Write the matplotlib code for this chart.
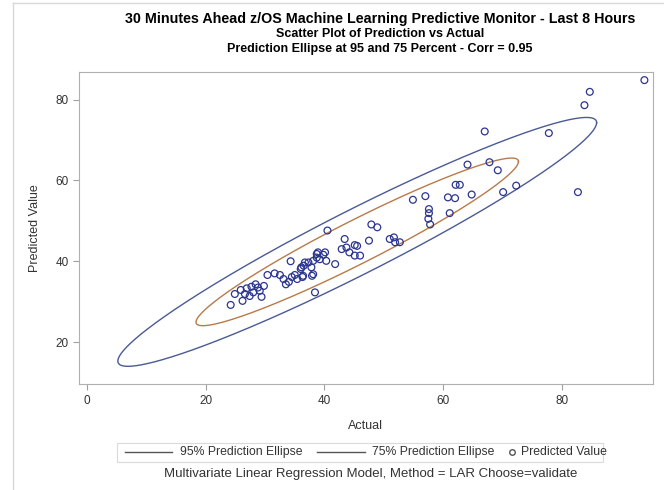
import numpy as np
import matplotlib
matplotlib.use("Agg")
import matplotlib.pyplot as plt
from matplotlib.lines import Line2D
from matplotlib.patches import Rectangle

# ---------------- data ----------------
actual = [
    24.2, 24.9, 25.9, 26.6, 26.2, 26.9, 27.7, 27.4, 28.0, 28.4, 28.8, 29.1, 29.4, 29.8, 30.4,
    31.6, 32.5, 33.1, 33.5, 34.0, 34.5, 35.0, 35.4, 36.3, 34.3, 36.0, 36.5, 37.3, 37.9, 38.1,
    38.7, 39.2, 39.8, 40.3, 41.8, 38.4, 38.9, 40.1, 38.7, 36.7, 36.1, 37.8, 38.1, 36.4,
    40.5, 47.9, 48.9, 43.4, 47.5, 51.0, 51.7, 51.9, 52.7, 42.9, 43.7, 44.2, 45.1, 45.5, 45.1, 46.0,
    54.9, 57.0, 60.8, 62.0, 62.1, 62.8, 64.1, 67.8, 69.2, 64.8, 70.1, 72.3, 57.6, 57.5, 57.8, 57.6, 61.1,
    67.0, 77.8, 82.7, 83.8, 84.7, 93.9,
]
predicted = [
    29.2, 31.9, 32.9, 31.9, 30.2, 33.3, 33.7, 31.4, 32.3, 34.3, 33.5, 32.7, 31.2, 33.9, 36.6,
    37.0, 36.6, 35.6, 34.3, 34.9, 36.1, 36.6, 35.6, 36.1, 40.0, 38.1, 38.9, 39.7, 36.4, 40.1,
    41.8, 40.5, 41.6, 40.1, 39.3, 32.3, 42.2, 42.2, 40.9, 39.7, 38.5, 38.5, 36.8, 36.4,
    47.6, 49.1, 48.4, 45.5, 45.1, 45.5, 45.9, 44.7, 44.7, 43.0, 43.4, 42.2, 44.0, 43.8, 41.4, 41.4,
    55.2, 56.1, 55.8, 55.6, 58.9, 58.9, 63.9, 64.5, 62.5, 56.5, 57.1, 58.7, 51.9, 50.5, 49.1, 52.9, 51.9,
    72.1, 71.7, 57.1, 78.6, 81.9, 84.8,
]
levels = [0.95, 0.75]
level_labels = ["95% Prediction Ellipse", "75% Prediction Ellipse"]
point_label = "Predicted Value"
xticks = [0, 20, 40, 60, 80]
yticks = [20, 40, 60, 80]

base = "Liberation Sans"
txt_color = "#333333"

x = np.asarray(actual)
y = np.asarray(predicted)
n = len(x)
mean = np.array([x.mean(), y.mean()])
cov = np.cov(x, y)
L = np.linalg.cholesky(cov)
t = np.linspace(0, 2 * np.pi, 400)
circ = np.vstack([np.cos(t), np.sin(t)])

fig = plt.figure(figsize=(6.64, 4.90), dpi=100)
ax = fig.add_axes([0.119, 0.216, 0.864, 0.637])

colors = ["#4A5A96", "#B87A4A"]
for lv, col in zip(levels, colors):
    nu = n - 2
    F = (nu / 2.0) * ((1 - lv) ** (-2.0 / nu) - 1)
    c2 = 2 * (n - 1) * (n + 1) / (n * (n - 2)) * F
    pts = mean[:, None] + np.sqrt(c2) * (L @ circ)
    ax.plot(pts[0], pts[1], color=col, lw=1.0)

ax.scatter(x, y, s=24, facecolors="none", edgecolors="#2B3590", linewidths=0.9, zorder=3)

ax.set_xlim(-1.35, 95.3)
ax.set_ylim(9.6, 86.8)
ax.set_xticks(xticks)
ax.set_yticks(yticks)
for sp in ax.spines.values():
    sp.set_color("#B0B0B0")
    sp.set_linewidth(0.8)
ax.tick_params(colors="#A0A0A0", labelcolor=txt_color, length=4, width=0.8, labelsize=8.5)
for lbl in ax.get_xticklabels() + ax.get_yticklabels():
    lbl.set_family(base)
ax.set_xlabel("Actual", fontsize=9, family=base, color=txt_color, labelpad=10)
ax.set_ylabel("Predicted Value", fontsize=9, family=base, color=txt_color, labelpad=10)

tx = 0.572
fig.text(tx, 0.961, "30 Minutes Ahead z/OS Machine Learning Predictive Monitor - Last 8 Hours",
         ha="center", va="center", fontsize=10.3, fontweight="bold", family=base)
fig.text(tx, 0.930, "Scatter Plot of Prediction vs Actual",
         ha="center", va="center", fontsize=9, fontweight="bold", family=base)
fig.text(tx, 0.900, "Prediction Ellipse at 95 and 75 Percent - Corr = 0.95",
         ha="center", va="center", fontsize=9, fontweight="bold", family=base)

# ---------------- legend (drawn in figure pixels) ----------------
W, H = 664.0, 490.0
def fx(px):
    return px / W
def fy(py):
    return 1 - py / H

ly = 452
fig.add_artist(Rectangle((fx(117), fy(462)), fx(603) - fx(117), fy(443) - fy(462),
                         transform=fig.transFigure, fill=False, edgecolor="#DADADA", lw=0.8))
entries = [(125, 172, 180, level_labels[0]), (317, 365, 372, level_labels[1])]
for x0, x1, xt, lab in entries:
    fig.add_artist(Line2D([fx(x0), fx(x1)], [fy(ly), fy(ly)], transform=fig.transFigure,
                          color="#555555", lw=1.0))
    fig.text(fx(xt), fy(ly), lab, ha="left", va="center", fontsize=8.8, family=base, color=txt_color)
fig.add_artist(Line2D([fx(512)], [fy(ly)], transform=fig.transFigure, marker="o",
                      markerfacecolor="none", markeredgecolor="#555555", markersize=4, lw=0))
fig.text(fx(521), fy(ly), point_label, ha="left", va="center", fontsize=8.8, family=base, color=txt_color)

fig.text(fx(371), fy(474), "Multivariate Linear Regression Model, Method = LAR Choose=validate",
         ha="center", va="center", fontsize=9.5, family=base, color=txt_color)

# outer graph border (left and top)
fig.add_artist(Line2D([0.019, 0.019], [0.0, 0.993], transform=fig.transFigure, color="#D8D8D8", lw=1))
fig.add_artist(Line2D([0.019, 1.0], [0.993, 0.993], transform=fig.transFigure, color="#D8D8D8", lw=1))

fig.savefig("out.png", dpi=100)
